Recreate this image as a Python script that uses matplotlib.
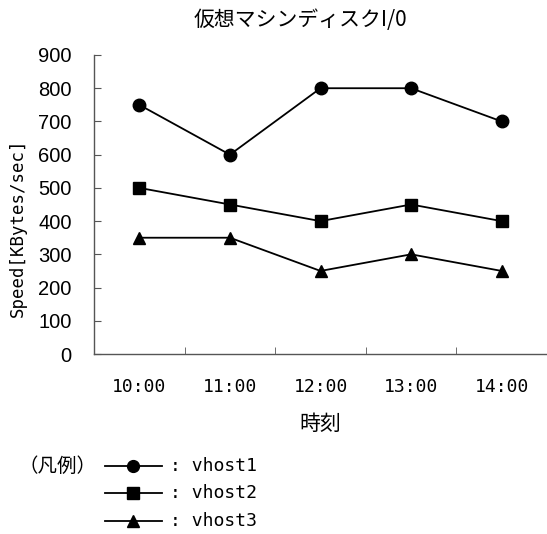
import numpy as np
import matplotlib
matplotlib.use('Agg')
import matplotlib.pyplot as plt
from matplotlib.lines import Line2D

plt.rcParams['font.family'] = ['Noto Sans CJK JP', 'DejaVu Sans']
mono = ['DejaVu Sans Mono', 'Noto Sans CJK JP']
narrow = ['Liberation Sans Narrow', 'Liberation Sans', 'DejaVu Sans']

# データ
times = ['10:00', '11:00', '12:00', '13:00', '14:00']
vhost1 = [750, 600, 800, 800, 700]
vhost2 = [500, 450, 400, 450, 400]
vhost3 = [350, 350, 250, 300, 250]
series_names = ['vhost1', 'vhost2', 'vhost3']
markers = ['o', 's', '^']
yticks = [0, 100, 200, 300, 400, 500, 600, 700, 800, 900]

W, H = 547, 534
fig = plt.figure(figsize=(W / 100, H / 100), dpi=100)
ax = fig.add_axes([94 / W, 1 - 354 / H, (547 - 94) / W, (354 - 55) / H])

x = np.arange(len(times))
for vals, m in zip([vhost1, vhost2, vhost3], markers):
    ax.plot(x, vals, '-', color='k', lw=1.3, marker=m, ms=9 if m != 's' else 8.5,
            clip_on=False)

ax.set_xlim(-0.5, len(times) - 0.5)
ax.set_ylim(0, 900)
ax.set_yticks(yticks)
ax.set_yticklabels([str(v) for v in yticks], family=narrow, fontsize=14.5)
ax.set_xticks(x)
ax.set_xticklabels(times, family=mono, fontsize=13)
ax.set_xticks(np.arange(0.5, len(times) - 1, 1), minor=True)
ax.tick_params(axis='x', which='major', length=0, pad=17)
ax.tick_params(axis='x', which='minor', length=5, direction='in', color='#555555')
ax.tick_params(axis='y', length=5, direction='in', color='#555555', pad=16)

for s in ['top', 'right']:
    ax.spines[s].set_visible(False)
for s in ['left', 'bottom']:
    ax.spines[s].set_color('#555555')
    ax.spines[s].set_linewidth(1.0)

# 軸ラベル・タイトル
fig.text(18 / W, 1 - 228 / H, 'Speed[KBytes/sec]', family=mono, fontsize=12.5,
         rotation=90, ha='center', va='center')
fig.text(320 / W, 1 - 424 / H, '時刻', fontsize=15, ha='center', va='center')
fig.text(300 / W, 1 - 20 / H, '仮想マシンディスクI/0', fontsize=15, ha='center', va='center')

# 凡例
fig.text(19 / W, 1 - 466 / H, '（凡例）', fontsize=14, va='center', ha='left')
rows = [466, 493, 521]
for name, m, yy in zip(series_names, markers, rows):
    fy = 1 - yy / H
    fig.add_artist(Line2D([105 / W, 162 / W], [fy, fy], color='k', lw=1.3))
    fig.add_artist(Line2D([133 / W], [fy], color='k', marker=m, ms=8.5 if m != 's' else 8))
    fig.text(170 / W, fy, ': ' + name, family=mono, fontsize=13, va='center', ha='left')

fig.savefig('out.png', dpi=100)
